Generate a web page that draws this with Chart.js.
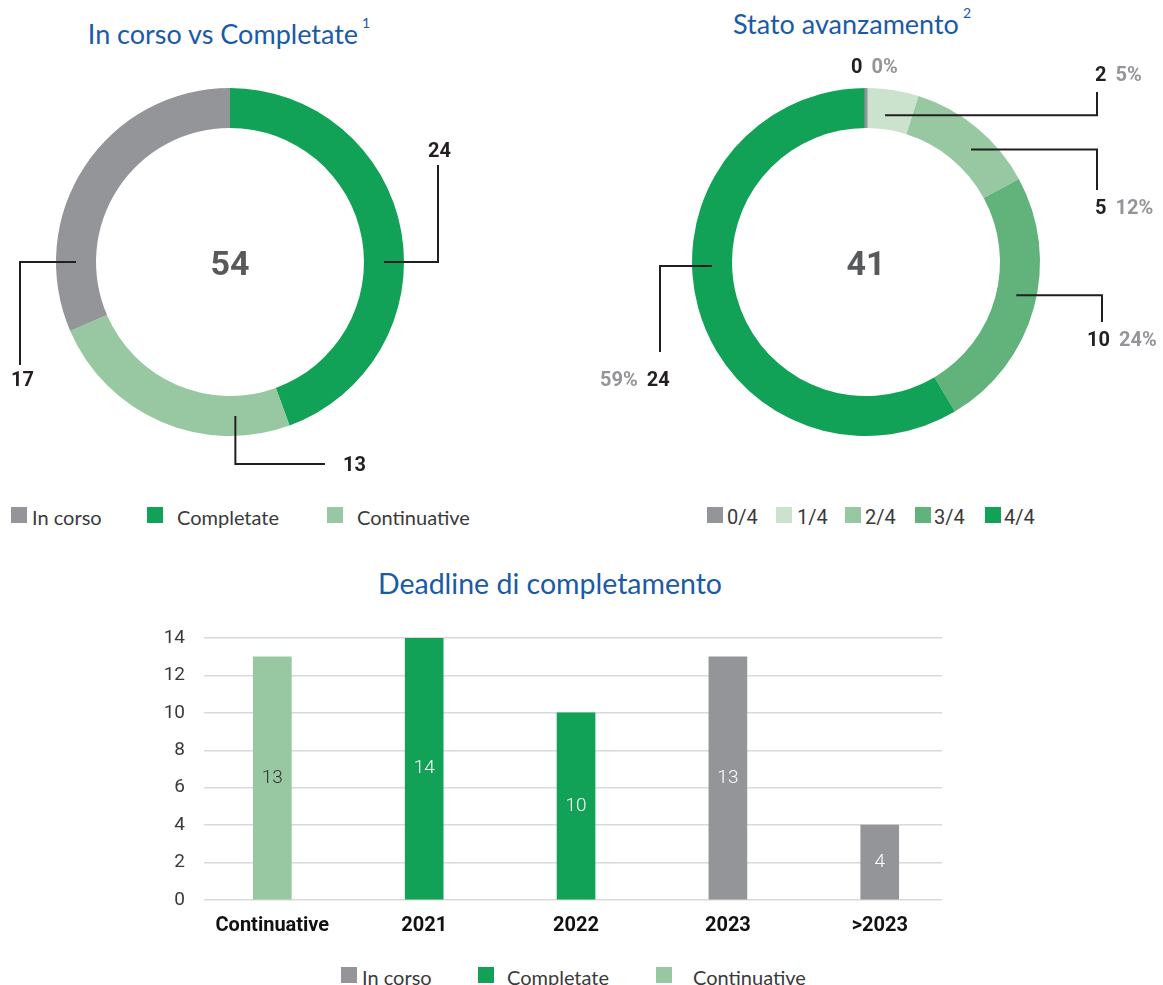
<!DOCTYPE html>
<html><head><meta charset="utf-8">
<script src="https://cdn.jsdelivr.net/npm/chart.js@4/dist/chart.umd.min.js"></script>
<style>
html,body{margin:0;padding:0;background:#fff}
body{width:1163px;height:985px;position:relative;overflow:hidden;font-family:Lato,"Noto Sans",sans-serif}
.title{position:absolute;color:#1a5aa6;font-family:Lato,sans-serif;font-size:27px;white-space:nowrap;transform:translateX(-50%);line-height:1}
.title sup{font-size:14px;vertical-align:top;position:relative;top:-4px;margin-left:4px}
.lg{position:absolute;color:#3a3a3a;white-space:nowrap;line-height:1}
.sq{position:absolute;width:16px;height:16px}
canvas{position:absolute}
</style></head>
<body>
<div class="title" style="left:229px;top:20px">In corso vs Completate<sup>1</sup></div>
<div class="title" style="left:852px;top:10px">Stato avanzamento<sup>2</sup></div>
<div class="title" style="left:550px;top:569px;font-size:28.5px">Deadline di completamento</div>
<canvas id="c1" width="470" height="440" style="left:0;top:40px;width:470px;height:440px"></canvas>
<canvas id="c2" width="583" height="440" style="left:580px;top:40px;width:583px;height:440px"></canvas>
<canvas id="c3" width="1163" height="360" style="left:0;top:600px;width:1163px;height:360px"></canvas>
<div id="legends"></div>
<script>
// ---- Data ----
const statusLabels = ['Completate', 'Continuative', 'In corso'];
const statusValues = [24, 13, 17];
const statusColors = ['#12a257', '#97c8a1', '#939598'];

const progressLabels = ['0/4', '1/4', '2/4', '3/4', '4/4'];
const progressValues = [0, 2, 5, 10, 24];
const progressColors = ['#939598', '#cbe3cd', '#97c8a1', '#62b37b', '#12a257'];

const deadlineCategories = ['Continuative', '2021', '2022', '2023', '>2023'];
const deadlineInCorso = [null, null, null, 13, 4];
const deadlineCompletate = [null, 14, 10, null, null];
const deadlineContinuative = [13, null, null, null, null];
const deadlineTicks = [0, 2, 4, 6, 8, 10, 12, 14];

const legendSeriesLabels = ['In corso', 'Completate', 'Continuative'];
const legendSeriesColors = ['#939598', '#12a257', '#97c8a1'];

Chart.defaults.animation = false;
Chart.defaults.font.family = 'Roboto, sans-serif';

// ---- Annotation layout for doughnuts (positions relative to centre) ----
const notes1 = [
  {i: 0, ang: 90, mode: 'hv', a: 208, b: -97, tx: 198, ty: -110, pct: false},
  {i: 2, ang: 270, mode: 'hv', a: -210, b: 103, tx: -219, ty: 119, pct: false},
  {i: 1, ang: 178, mode: 'vh', a: 202, b: 95, tx: 113, ty: 204, pct: false}
];
const notes2 = [
  {i: 0, ang: null, tx: -15, ty: -194, pct: 'after'},
  {i: 1, ang: 7.4, r: 148, mode: 'hv', a: 231, b: -170, tx: 229, ty: -186, pct: 'after'},
  {i: 2, ang: 43, mode: 'hv', a: 231, b: -72, tx: 229, ty: -53, pct: 'after'},
  {i: 3, ang: 102.5, mode: 'hv', a: 236, b: 60, tx: 221, ty: 79, pct: 'after'},
  {i: 4, ang: 268.5, mode: 'hv', a: -206, b: 90, tx: -266, ty: 119, pct: 'before'}
];

function doughnutPlugin(notes) {
  return {
    id: 'notes',
    afterDatasetsDraw(chart) {
      const ctx = chart.ctx;
      const meta = chart.getDatasetMeta(0);
      const arc0 = meta.data[0];
      const cx = arc0.x, cy = arc0.y;
      const ir = arc0.innerRadius, or = arc0.outerRadius;
      const vals = chart.data.datasets[0].data;
      const total = vals.reduce((s, v) => s + v, 0);
      ctx.save();
      meta.data.forEach((arc, k) => {
        if (vals[k] === 0) {
          const a = arc.startAngle;
          ctx.strokeStyle = chart.data.datasets[0].backgroundColor[k];
          ctx.lineWidth = 3;
          ctx.beginPath();
          ctx.moveTo(cx + Math.cos(a) * ir, cy + Math.sin(a) * ir);
          ctx.lineTo(cx + Math.cos(a) * or, cy + Math.sin(a) * or);
          ctx.stroke();
        }
      });
      ctx.fillStyle = '#58595b';
      ctx.font = 'bold 34px Roboto, sans-serif';
      ctx.textAlign = 'center';
      ctx.textBaseline = 'middle';
      ctx.fillText(String(total), cx, cy + 4);
      ctx.strokeStyle = '#231f20';
      ctx.lineWidth = 2;
      notes.forEach(n => {
        if (n.ang !== null) {
          const rad = n.ang * Math.PI / 180;
          const r = n.r || (ir + or) / 2;
          const px = cx + Math.sin(rad) * r, py = cy - Math.cos(rad) * r;
          ctx.beginPath();
          ctx.moveTo(px, py);
          if (n.mode === 'hv') {
            ctx.lineTo(cx + n.a, py);
            ctx.lineTo(cx + n.a, cy + n.b);
          } else {
            ctx.lineTo(px, cy + n.a);
            ctx.lineTo(cx + n.b, cy + n.a);
          }
          ctx.stroke();
        }
        const v = vals[n.i];
        const pctTxt = Math.round(v / total * 100) + '%';
        let parts = [[String(v), '#231f20']];
        if (n.pct === 'after') parts.push([pctTxt, '#939598']);
        if (n.pct === 'before') parts.unshift([pctTxt, '#939598']);
        ctx.font = 'bold 20px Roboto, sans-serif';
        ctx.textAlign = 'left';
        ctx.textBaseline = 'middle';
        let x = cx + n.tx;
        parts.forEach(p => {
          ctx.fillStyle = p[1];
          ctx.fillText(p[0], x, cy + n.ty);
          x += ctx.measureText(p[0]).width + 9;
        });
      });
      ctx.restore();
    }
  };
}

new Chart(document.getElementById('c1'), {
  type: 'doughnut',
  data: {labels: statusLabels, datasets: [{data: statusValues, backgroundColor: statusColors, borderWidth: 0, hoverOffset: 0}]},
  options: {
    responsive: false, cutout: '77%',
    layout: {padding: {left: 56, right: 66, top: 48, bottom: 44}},
    plugins: {legend: {display: false}, tooltip: {enabled: false}}
  },
  plugins: [doughnutPlugin(notes1)]
});

new Chart(document.getElementById('c2'), {
  type: 'doughnut',
  data: {labels: progressLabels, datasets: [{data: progressValues, backgroundColor: progressColors, borderWidth: 0, hoverOffset: 0}]},
  options: {
    responsive: false, cutout: '77%',
    layout: {padding: {left: 112, right: 123, top: 48, bottom: 44}},
    plugins: {legend: {display: false}, tooltip: {enabled: false}}
  },
  plugins: [doughnutPlugin(notes2)]
});

// ---- Bar chart ----
function pts(arr) { return arr.map((v, i) => v === null ? null : {x: i, y: v}).filter(p => p); }
const barLabelColors = ['#ffffff', '#ffffff', '#333333'];
const barValuePlugin = {
  id: 'barValues',
  afterDatasetsDraw(chart) {
    const ctx = chart.ctx;
    ctx.save();
    ctx.font = '300 19px Roboto, sans-serif';
    ctx.textAlign = 'center';
    ctx.textBaseline = 'middle';
    chart.data.datasets.forEach((ds, di) => {
      chart.getDatasetMeta(di).data.forEach((el, k) => {
        ctx.fillStyle = barLabelColors[di];
        ctx.fillText(String(ds.data[k].y), el.x, (el.y + el.base) / 2);
      });
    });
    ctx.restore();
  }
};

new Chart(document.getElementById('c3'), {
  type: 'bar',
  data: {
    datasets: [
      {label: legendSeriesLabels[0], data: pts(deadlineInCorso), backgroundColor: legendSeriesColors[0]},
      {label: legendSeriesLabels[1], data: pts(deadlineCompletate), backgroundColor: legendSeriesColors[1]},
      {label: legendSeriesLabels[2], data: pts(deadlineContinuative), backgroundColor: legendSeriesColors[2]}
    ]
  },
  options: {
    responsive: false,
    datasets: {bar: {barThickness: 38, grouped: false, borderWidth: 0}},
    layout: {padding: {left: 0, right: 221, top: 38, bottom: 20}},
    plugins: {legend: {display: false}, tooltip: {enabled: false}},
    scales: {
      x: {
        type: 'linear', min: -0.45, max: 4.41, offset: false,
        afterBuildTicks: s => { s.ticks = deadlineCategories.map((c, i) => ({value: i})); },
        afterFit: s => { s.height = 40; },
        grid: {display: false, drawTicks: false, offset: false},
        border: {display: false},
        ticks: {
          autoSkip: false, maxRotation: 0, padding: 14,
          color: '#111', font: {family: 'Roboto', size: 20, weight: 'bold'},
          callback: v => deadlineCategories[v]
        }
      },
      y: {
        min: 0, max: 14,
        afterBuildTicks: s => { s.ticks = deadlineTicks.map(v => ({value: v})); },
        afterFit: s => { s.width = 204; },
        grid: {color: '#d9d9d9', lineWidth: 1.5, drawTicks: false},
        border: {display: false},
        ticks: {padding: 19, color: '#3a3a3a', font: {family: 'Roboto', size: 19}}
      }
    }
  },
  plugins: [barValuePlugin]
});

// ---- HTML legends ----
function legend(labels, colors, sqX, txX, top, fontCss) {
  const root = document.getElementById('legends');
  labels.forEach((l, i) => {
    const s = document.createElement('div');
    s.className = 'sq';
    s.style.left = sqX[i] + 'px'; s.style.top = top + 'px'; s.style.background = colors[i];
    root.appendChild(s);
    const t = document.createElement('div');
    t.className = 'lg';
    t.textContent = l;
    t.style.left = txX[i] + 'px'; t.style.top = (top - 2) + 'px'; t.style.font = fontCss;
    root.appendChild(t);
  });
}
legend(legendSeriesLabels, legendSeriesColors, [11, 147, 327], [32, 177, 357], 507, '20px Lato, sans-serif');
legend(progressLabels, progressColors, [707, 776, 845, 915, 985], [727, 797, 865, 934, 1004], 507, '20px Roboto, sans-serif');
legend(legendSeriesLabels, legendSeriesColors, [341, 478, 656], [362, 507, 693], 967, '20px Lato, sans-serif');
</script>
</body></html>
